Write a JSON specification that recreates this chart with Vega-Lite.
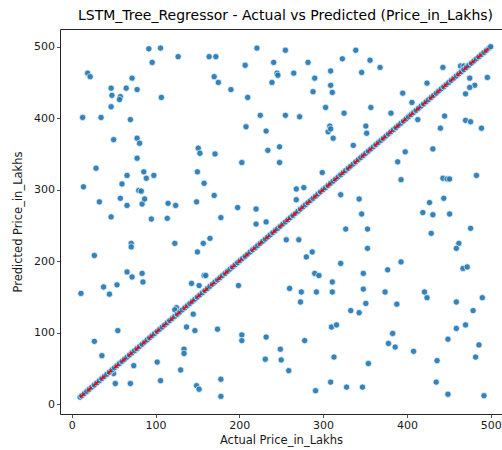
{
"$schema": "https://vega.github.io/schema/vega-lite/v6.json",
"width": 442, "height": 385,
"autosize": {"type": "none"},
"padding": {"left": 60, "top": 29, "right": 0, "bottom": 36},
"background": "white",
"config": {"view": {"stroke": null}, "font": "DejaVu Sans",
 "axis": {"grid": false, "domainColor": "#262626", "tickColor": "#262626", "labelColor": "#1a1a1a", "titleColor": "#1a1a1a", "labelFont": "DejaVu Sans", "titleFont": "DejaVu Sans", "labelFontSize": 11, "titleFontSize": 11.5, "titleFontWeight": "normal", "tickSize": 3.5, "domainWidth": 1, "tickWidth": 0.8}},
"title": {"text": "LSTM_Tree_Regressor - Actual vs Predicted (Price_in_Lakhs)", "fontSize": 14, "fontWeight": "normal", "font": "DejaVu Sans", "anchor": "middle", "offset": 6, "color": "#000", "dx": 4.5},
"datasets": {
"pts": [
{"a":92,"p":497},{"a":106,"p":498},{"a":127,"p":486},{"a":164,"p":486},{"a":172,"p":486},{"a":221,"p":498},{"a":96,"p":478},{"a":207,"p":474},{"a":241,"p":478},{"a":19,"p":463},{"a":22,"p":458},{"a":72,"p":456},{"a":170,"p":458},{"a":175,"p":450},{"a":239,"p":450},{"a":245,"p":463},{"a":246,"p":460},{"a":47,"p":442},{"a":65,"p":442},{"a":78,"p":440},{"a":48,"p":432},{"a":58,"p":430},{"a":57,"p":426},{"a":190,"p":440},{"a":107,"p":429},{"a":210,"p":429},{"a":47,"p":416},{"a":13,"p":401},{"a":35,"p":401},{"a":70,"p":398},{"a":225,"p":404},{"a":208,"p":388},{"a":232,"p":382},{"a":50,"p":370},{"a":78,"p":372},{"a":81,"p":365},{"a":151,"p":358},{"a":153,"p":351},{"a":171,"p":350},{"a":234,"p":355},{"a":248,"p":360},{"a":78,"p":344},{"a":203,"p":338},{"a":248,"p":338},{"a":29,"p":330},{"a":86,"p":325},{"a":89,"p":316},{"a":98,"p":320},{"a":66,"p":320},{"a":150,"p":325},{"a":60,"p":308},{"a":158,"p":309},{"a":14,"p":304},{"a":80,"p":299},{"a":83,"p":298},{"a":58,"p":288},{"a":170,"p":292},{"a":33,"p":283},{"a":66,"p":278},{"a":84,"p":280},{"a":87,"p":287},{"a":115,"p":281},{"a":124,"p":278},{"a":149,"p":283},{"a":198,"p":275},{"a":220,"p":273},{"a":47,"p":262},{"a":95,"p":259},{"a":114,"p":260},{"a":178,"p":261},{"a":220,"p":252},{"a":232,"p":255},
{"a":255,"p":495},{"a":339,"p":495},{"a":282,"p":478},{"a":323,"p":483},{"a":356,"p":481},{"a":368,"p":471},{"a":265,"p":463},{"a":309,"p":466},{"a":346,"p":464},{"a":290,"p":456},{"a":309,"p":446},{"a":311,"p":436},{"a":288,"p":437},{"a":443,"p":471},{"a":464,"p":473},{"a":468,"p":473},{"a":475,"p":456},{"a":481,"p":446},{"a":475,"p":443},{"a":470,"p":434},{"a":496,"p":457},{"a":424,"p":449},{"a":395,"p":435},{"a":406,"p":422},{"a":303,"p":415},{"a":325,"p":407},{"a":357,"p":415},{"a":255,"p":404},{"a":272,"p":402},{"a":381,"p":407},{"a":413,"p":398},{"a":445,"p":403},{"a":470,"p":397},{"a":476,"p":395},{"a":489,"p":386},{"a":440,"p":386},{"a":308,"p":389},{"a":306,"p":381},{"a":309,"p":385},{"a":312,"p":372},{"a":351,"p":389},{"a":352,"p":379},{"a":336,"p":362},{"a":431,"p":357},{"a":398,"p":353},{"a":389,"p":339},{"a":299,"p":324},{"a":393,"p":314},{"a":443,"p":316},{"a":448,"p":315},{"a":451,"p":315},{"a":483,"p":320},{"a":268,"p":301},{"a":277,"p":303},{"a":268,"p":286},{"a":321,"p":293},{"a":343,"p":287},{"a":346,"p":266},{"a":427,"p":282},{"a":444,"p":288},{"a":419,"p":268},{"a":431,"p":265},{"a":451,"p":266},
{"a":327,"p":245},{"a":353,"p":245},{"a":476,"p":246},{"a":429,"p":239},{"a":256,"p":230},{"a":271,"p":230},{"a":462,"p":225},{"a":459,"p":218},{"a":353,"p":218},{"a":287,"p":213},{"a":280,"p":206},{"a":321,"p":197},{"a":393,"p":199},{"a":377,"p":188},{"a":290,"p":183},{"a":295,"p":180},{"a":348,"p":183},{"a":311,"p":171},{"a":467,"p":190},{"a":472,"p":192},{"a":260,"p":162},{"a":274,"p":157},{"a":273,"p":143},{"a":292,"p":157},{"a":311,"p":157},{"a":348,"p":161},{"a":351,"p":141},{"a":374,"p":157},{"a":388,"p":140},{"a":421,"p":157},{"a":424,"p":149},{"a":459,"p":143},{"a":490,"p":149},{"a":333,"p":131},{"a":343,"p":128},{"a":479,"p":131},{"a":310,"p":108},{"a":316,"p":111},{"a":459,"p":106},{"a":470,"p":111},{"a":383,"p":99},{"a":378,"p":85},{"a":386,"p":80},{"a":278,"p":89},{"a":449,"p":91},{"a":486,"p":83},{"a":249,"p":77},{"a":250,"p":62},{"a":408,"p":74},{"a":313,"p":66},{"a":482,"p":66},{"a":354,"p":57},{"a":436,"p":61},{"a":259,"p":47},{"a":309,"p":31},{"a":328,"p":24},{"a":347,"p":24},{"a":291,"p":19},{"a":435,"p":31},{"a":449,"p":14},{"a":492,"p":12},
{"a":27,"p":208},{"a":71,"p":225},{"a":71,"p":220},{"a":123,"p":225},{"a":157,"p":225},{"a":165,"p":232},{"a":150,"p":213},{"a":66,"p":185},{"a":72,"p":178},{"a":84,"p":183},{"a":85,"p":171},{"a":38,"p":164},{"a":54,"p":167},{"a":45,"p":154},{"a":11,"p":155},{"a":158,"p":180},{"a":160,"p":180},{"a":143,"p":169},{"a":152,"p":166},{"a":199,"p":166},{"a":125,"p":135},{"a":123,"p":132},{"a":145,"p":126},{"a":137,"p":108},{"a":147,"p":103},{"a":174,"p":105},{"a":55,"p":103},{"a":27,"p":88},{"a":36,"p":68},{"a":74,"p":54},{"a":50,"p":43},{"a":52,"p":29},{"a":70,"p":29},{"a":102,"p":59},{"a":106,"p":33},{"a":130,"p":48},{"a":134,"p":77},{"a":134,"p":71},{"a":149,"p":26},{"a":152,"p":21},{"a":178,"p":35},{"a":178,"p":11},{"a":203,"p":97},{"a":203,"p":89},{"a":232,"p":94},{"a":231,"p":63},
{"a":10,"p":10},{"a":12,"p":12},{"a":15,"p":15},{"a":18,"p":18},{"a":21,"p":21},{"a":24,"p":24},{"a":27,"p":27},{"a":30,"p":30},{"a":33,"p":33},{"a":36,"p":36},{"a":39,"p":39},{"a":42,"p":42},{"a":45,"p":45},{"a":48,"p":48},{"a":51,"p":51},{"a":54,"p":54},{"a":57,"p":57},{"a":60,"p":60},{"a":63,"p":63},{"a":66,"p":66},{"a":69,"p":69},{"a":72,"p":72},{"a":75,"p":75},{"a":78,"p":78},{"a":81,"p":81},{"a":84,"p":84},{"a":87,"p":87},{"a":90,"p":90},{"a":93,"p":93},{"a":96,"p":96},{"a":99,"p":99},{"a":102,"p":102},{"a":105,"p":105},{"a":108,"p":108},{"a":111,"p":111},{"a":114,"p":114},{"a":117,"p":117},{"a":120,"p":120},{"a":123,"p":123},{"a":126,"p":126},{"a":129,"p":129},{"a":132,"p":132},{"a":135,"p":135},{"a":138,"p":138},{"a":141,"p":141},{"a":144,"p":144},{"a":147,"p":147},{"a":150,"p":150},{"a":153,"p":153},{"a":156,"p":156},{"a":159,"p":159},{"a":162,"p":162},{"a":165,"p":165},{"a":168,"p":168},{"a":171,"p":171},{"a":174,"p":174},{"a":177,"p":177},{"a":180,"p":180},{"a":183,"p":183},{"a":186,"p":186},{"a":189,"p":189},{"a":192,"p":192},{"a":195,"p":195},{"a":198,"p":198},{"a":201,"p":201},{"a":204,"p":204},{"a":207,"p":207},{"a":210,"p":210},{"a":213,"p":213},{"a":216,"p":216},{"a":219,"p":219},{"a":222,"p":222},{"a":225,"p":225},{"a":228,"p":228},{"a":231,"p":231},{"a":234,"p":234},{"a":237,"p":237},{"a":240,"p":240},{"a":243,"p":243},{"a":246,"p":246},{"a":249,"p":249},{"a":252,"p":252},{"a":255,"p":255},{"a":258,"p":258},{"a":261,"p":261},{"a":264,"p":264},{"a":267,"p":267},{"a":270,"p":270},{"a":273,"p":273},{"a":276,"p":276},{"a":279,"p":279},{"a":282,"p":282},{"a":285,"p":285},{"a":288,"p":288},{"a":291,"p":291},{"a":294,"p":294},{"a":297,"p":297},{"a":300,"p":300},{"a":303,"p":303},{"a":306,"p":306},{"a":309,"p":309},{"a":312,"p":312},{"a":315,"p":315},{"a":318,"p":318},{"a":321,"p":321},{"a":324,"p":324},{"a":327,"p":327},{"a":330,"p":330},{"a":333,"p":333},{"a":336,"p":336},{"a":339,"p":339},{"a":342,"p":342},{"a":345,"p":345},{"a":348,"p":348},{"a":351,"p":351},{"a":354,"p":354},{"a":357,"p":357},{"a":360,"p":360},{"a":363,"p":363},{"a":366,"p":366},{"a":369,"p":369},{"a":372,"p":372},{"a":375,"p":375},{"a":378,"p":378},{"a":381,"p":381},{"a":384,"p":384},{"a":387,"p":387},{"a":390,"p":390},{"a":393,"p":393},{"a":396,"p":396},{"a":399,"p":399},{"a":402,"p":402},{"a":405,"p":405},{"a":408,"p":408},{"a":411,"p":411},{"a":414,"p":414},{"a":417,"p":417},{"a":420,"p":420},{"a":423,"p":423},{"a":426,"p":426},{"a":429,"p":429},{"a":432,"p":432},{"a":435,"p":435},{"a":438,"p":438},{"a":441,"p":441},{"a":444,"p":444},{"a":447,"p":447},{"a":450,"p":450},{"a":453,"p":453},{"a":456,"p":456},{"a":459,"p":459},{"a":462,"p":462},{"a":465,"p":465},{"a":468,"p":468},{"a":471,"p":471},{"a":474,"p":474},{"a":477,"p":477},{"a":480,"p":480},{"a":483,"p":483},{"a":486,"p":486},{"a":489,"p":489},{"a":492,"p":492},{"a":495,"p":495},{"a":498,"p":498},{"a":500,"p":500}
],
"ref": [{"a": 10, "p": 10}, {"a": 500, "p": 500}]
},
"layer": [
 {"data": {"name": "pts"},
  "mark": {"type": "point", "filled": true, "shape": "circle", "size": 40, "fill": "#1f77b4", "stroke": "white", "strokeWidth": 0.7, "opacity": 0.9},
  "encoding": {
   "x": {"field": "a", "type": "quantitative", "scale": {"domain": [-14, 513.5], "nice": false, "zero": false},
         "axis": {"values": [0, 100, 200, 300, 400, 500], "title": "Actual Price_in_Lakhs", "labelPadding": 2, "titlePadding": 4}},
   "y": {"field": "p", "type": "quantitative", "scale": {"domain": [-13.6, 524.7], "nice": false, "zero": false},
         "axis": {"values": [0, 100, 200, 300, 400, 500], "title": "Predicted Price_in_Lakhs", "labelPadding": 2, "titlePadding": 10}}
  }},
 {"data": {"name": "ref"},
  "mark": {"type": "line", "color": "red", "strokeDash": [6, 3], "strokeWidth": 2},
  "encoding": {
   "x": {"field": "a", "type": "quantitative", "axis": {"orient": "top", "labels": false, "ticks": false, "title": null, "domain": true}},
   "y": {"field": "p", "type": "quantitative"}
  }}
],
"resolve": {"axis": {"x": "independent"}}
}
